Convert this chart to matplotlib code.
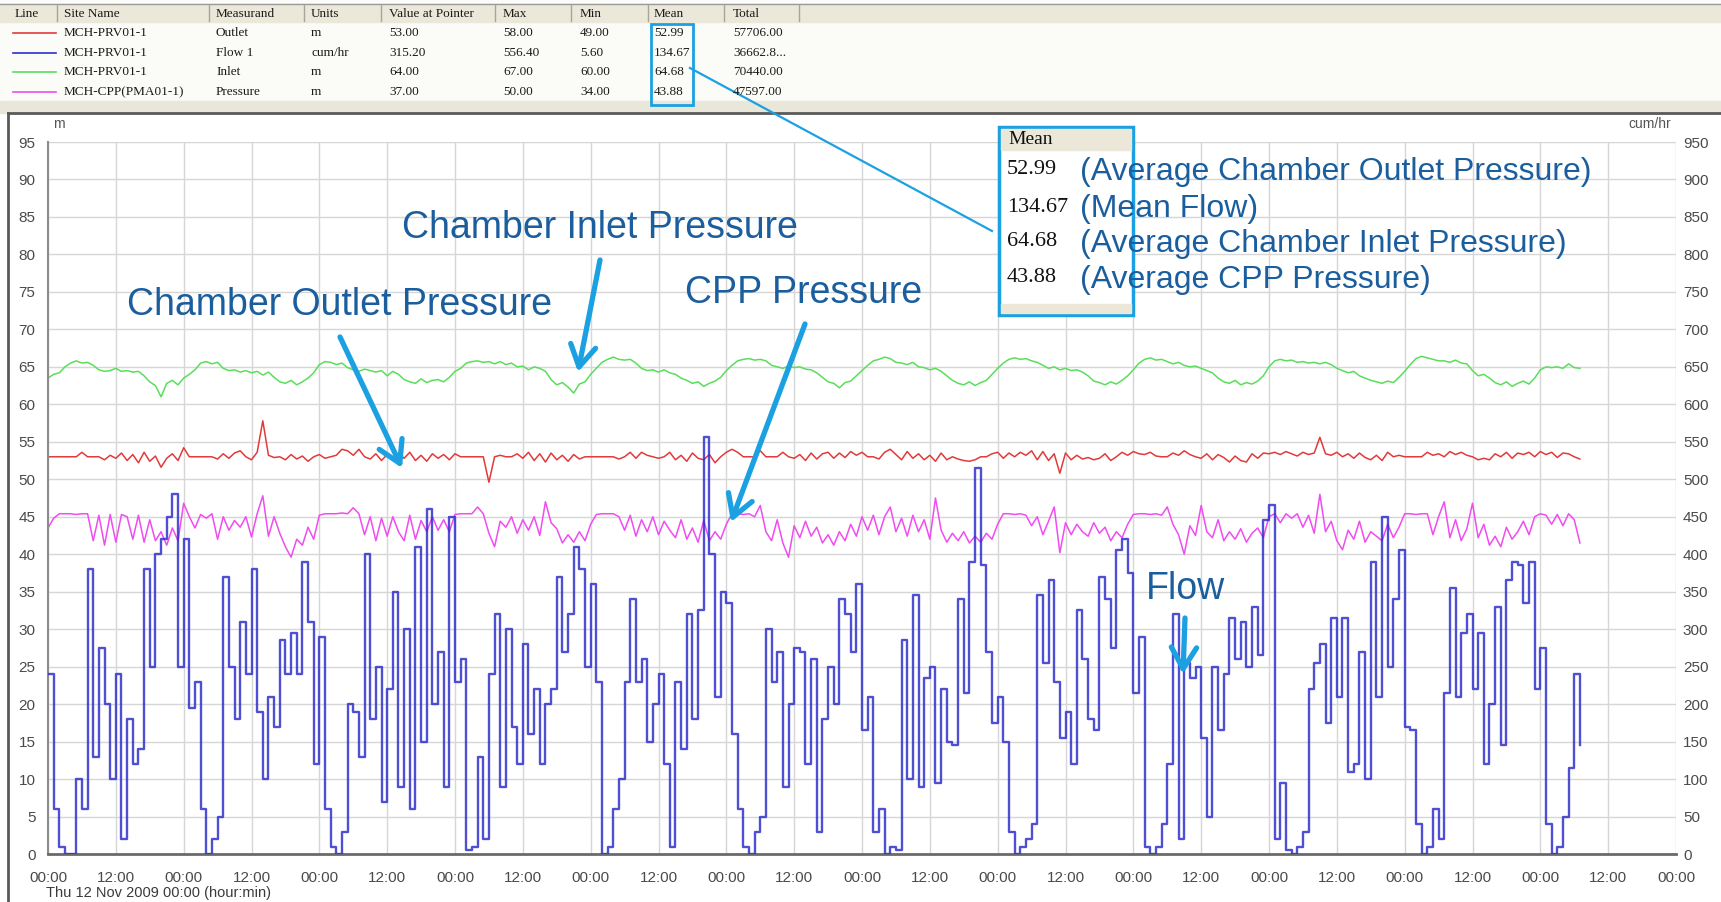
import numpy as np
import matplotlib.pyplot as plt

# hourly readings from Thu 12 Nov 2009 00:00
outlet_m = [
    53.0, 53.0, 53.0, 53.0, 53.0, 53.0, 53.6, 53.0, 53.0, 53.0, 52.6, 53.2,
    52.8, 53.5, 52.5, 53.3, 52.2, 53.6, 52.4, 53.1, 51.6, 52.8, 53.4, 52.5,
    54.2, 53.0, 53.0, 53.0, 53.0, 53.0, 52.7, 53.4, 52.8, 53.5, 53.8, 53.0,
    52.6, 53.6, 57.8, 53.2, 52.9, 53.0, 52.6, 53.3, 52.7, 53.1, 52.4, 53.0,
    53.3, 52.8, 53.0, 53.2, 54.0, 53.8, 53.2, 54.0, 53.0, 52.7, 53.4, 52.5,
    53.3, 52.6, 53.5, 52.8, 53.6, 52.5, 53.2, 52.4, 53.4, 52.8, 53.3, 52.6,
    53.4, 53.0, 53.0, 53.0, 53.0, 53.0, 49.6, 53.0, 53.2, 53.0, 53.0, 53.4,
    52.8, 53.6, 52.5, 53.4, 52.3, 53.5, 52.6, 53.2, 52.4, 53.3, 52.7, 53.0,
    53.0, 53.0, 53.0, 53.0, 53.0, 52.7, 53.0, 53.6, 52.8, 53.6, 53.2, 53.0,
    52.8, 53.0, 53.6, 52.6, 53.2, 52.4, 53.5, 52.8, 52.6, 53.3, 52.2, 53.0,
    53.6, 54.0, 53.6, 53.0, 53.0, 53.0, 53.8, 53.0, 53.0, 53.0, 53.6, 53.0,
    52.8, 53.3, 52.5, 53.5, 52.7, 53.4, 53.6, 52.8, 53.5, 52.9, 53.7, 53.2,
    53.6, 53.0, 53.0, 52.7, 53.6, 54.0, 53.3, 52.6, 53.7, 52.8, 53.4, 52.6,
    53.2, 52.4, 53.5, 52.6, 53.0, 52.7, 52.5, 52.4, 52.6, 53.0, 53.0, 53.4,
    53.6, 52.8, 53.5, 53.0, 53.6, 53.2, 53.8, 52.6, 53.7, 52.5, 53.4, 50.8,
    53.5, 52.6, 53.2, 52.7, 52.9, 52.6, 52.8, 53.4, 52.5, 53.0, 53.6, 53.2,
    53.7, 53.4, 53.3, 53.6, 53.1, 53.0, 53.0, 53.5, 53.2, 53.8, 53.3, 53.0,
    52.8, 53.4, 52.6, 53.3, 52.9, 52.3, 53.1, 52.5, 52.3, 53.4, 52.8, 53.5,
    53.4, 53.6, 53.3, 53.7, 53.4, 53.1, 53.6, 53.3, 53.5, 55.6, 53.4, 53.2,
    53.6, 53.0, 53.4, 52.8, 53.5, 52.9, 52.6, 53.2, 52.5, 53.6, 53.0, 53.2,
    53.0, 53.0, 53.0, 53.0, 53.6, 53.2, 53.4, 53.0, 53.7, 53.3, 53.6, 53.2,
    53.0, 52.6, 52.8, 52.6, 53.4, 53.0, 53.6, 52.8, 53.5, 53.3, 53.6, 53.0,
    53.7, 53.3, 53.6, 52.9, 53.5, 53.4, 53.0, 52.7,
]

flow_cumhr = [
    240, 60, 10, 0, 0, 100, 60, 380, 130, 275,
    200, 100, 240, 20, 180, 120, 140, 380, 250, 400,
    420, 450, 480, 250, 420, 195, 230, 60, 0, 20,
    50, 370, 250, 180, 310, 240, 380, 190, 100, 210,
    170, 285, 240, 295, 240, 390, 310, 120, 290, 60,
    10, 0, 30, 200, 190, 130, 400, 180, 250, 70,
    220, 350, 90, 300, 60, 410, 150, 460, 200, 270,
    90, 450, 230, 260, 5, 10, 130, 20, 240, 320,
    90, 300, 170, 120, 280, 160, 220, 120, 200, 220,
    370, 270, 320, 410, 380, 250, 360, 230, 0, 10,
    60, 100, 230, 340, 230, 260, 150, 200, 240, 120,
    10, 230, 140, 320, 180, 325, 556, 400, 210, 350,
    335, 160, 60, 10, 0, 30, 50, 300, 230, 270,
    90, 200, 275, 270, 120, 260, 30, 180, 250, 200,
    340, 320, 270, 360, 165, 210, 30, 60, 0, 10,
    5, 285, 100, 345, 90, 235, 250, 95, 220, 150,
    145, 340, 215, 390, 515, 385, 270, 175, 210, 150,
    30, 0, 10, 20, 40, 345, 255, 365, 230, 155,
    190, 120, 325, 260, 180, 165, 370, 340, 275, 405,
    420, 375, 215, 290, 10, 0, 10, 40, 120, 320,
    20, 255, 235, 250, 155, 50, 250, 165, 240, 315,
    260, 310, 250, 330, 265, 445, 465, 20, 95, 5,
    0, 10, 30, 220, 255, 280, 175, 315, 210, 315,
    110, 120, 270, 100, 390, 210, 450, 250, 340, 405,
    170, 165, 40, 0, 10, 60, 20, 215, 355, 210,
    295, 320, 220, 295, 120, 200, 330, 145, 365, 390,
    385, 335, 390, 220, 275, 40, 0, 10, 50, 115,
    240, 145,
]

inlet_m = [
    63.5, 64.0, 64.2, 65.0, 65.5, 65.8, 65.5, 65.6, 65.2, 64.6, 64.4, 64.5,
    64.8, 64.4, 64.5, 64.3, 64.4, 63.8, 63.0, 62.5, 61.0, 62.8, 63.2, 62.6,
    63.5, 64.0, 64.6, 65.5, 65.7, 65.4, 65.6, 64.8, 64.5, 64.6, 64.3, 64.5,
    64.2, 64.4, 63.9, 64.3, 63.6, 63.0, 62.8, 63.2, 62.6, 63.0, 63.5, 64.2,
    65.3, 65.7, 65.6, 65.3, 65.5, 64.9, 64.6, 64.4, 64.7, 64.5, 64.3, 64.5,
    63.8, 64.4, 64.0, 63.3, 63.0, 62.8, 63.4, 62.9, 63.2, 63.3, 63.0, 63.6,
    64.4, 64.8, 65.5, 65.7, 65.8, 65.6, 65.7, 65.4, 65.7, 65.3, 65.5, 65.0,
    65.1, 64.6, 65.0, 64.8, 64.4, 63.3, 62.6, 62.9, 62.3, 61.5, 62.7, 63.0,
    64.0, 64.8, 65.6, 66.0, 66.3, 66.0, 65.9, 66.0, 65.5, 64.8, 64.5, 64.6,
    64.3, 64.6, 64.2, 64.0, 63.5, 63.2, 62.8, 63.0, 62.4, 62.8, 63.1, 63.6,
    64.5, 65.2, 65.8, 66.0, 66.1, 65.9, 66.0, 65.8, 65.2, 65.0, 64.8, 65.1,
    64.9, 65.0, 64.7, 64.6, 64.2, 63.6, 63.0, 62.8, 62.2, 62.9, 63.1, 63.8,
    64.5, 65.2, 65.8, 66.0, 66.3, 66.1, 65.6, 65.5, 65.3, 65.6, 65.0, 64.9,
    64.6, 64.8, 64.4, 63.8, 63.2, 62.8, 62.6, 63.0, 62.5, 62.9, 63.2, 64.0,
    64.8, 65.5, 66.0, 66.2, 66.0, 66.1, 65.8, 65.6, 65.2, 64.8, 65.0, 64.6,
    64.8, 64.5, 64.6, 64.3, 63.8, 63.1, 62.9, 62.6, 63.0, 62.7, 63.2, 63.8,
    64.6, 65.5, 66.0, 66.2, 65.9, 66.0, 65.7, 65.4, 65.6, 65.2, 65.0, 65.1,
    64.8, 64.5, 64.2, 63.5, 63.0, 62.8, 63.2, 62.6, 62.9, 62.7, 63.1, 63.8,
    65.0, 65.8, 66.0, 65.8, 65.9, 65.6, 65.7, 65.5, 65.6, 65.4, 65.6, 65.3,
    64.8, 64.5, 64.2, 64.4, 63.8, 63.5, 63.2, 63.0, 62.8, 63.1, 62.9, 63.6,
    64.4, 65.3, 66.1, 66.4, 66.2, 66.0, 65.8, 65.8, 65.6, 65.9, 65.5, 65.4,
    64.5, 63.8, 64.0, 63.5, 62.9, 62.6, 63.0, 62.4, 62.8, 63.1, 62.7, 63.5,
    64.6, 65.0, 64.9, 65.0, 64.8, 65.4, 64.9, 64.8,
]

cpp_m = [
    43.5, 44.8, 45.4, 45.4, 45.4, 45.3, 45.4, 45.4, 41.8, 45.2, 41.2, 45.3,
    41.6, 45.3, 45.0, 42.0, 45.2, 41.6, 44.6, 41.8, 43.0, 41.2, 43.5, 41.8,
    46.8, 45.0, 43.5, 45.3, 44.8, 45.4, 42.0, 45.0, 43.2, 44.5, 43.6, 45.0,
    42.3, 45.4, 47.8, 42.4, 45.0, 42.8, 41.0, 39.6, 42.0, 41.2, 43.6, 42.0,
    45.2, 45.4, 45.4, 45.4, 45.5, 45.4, 46.2, 45.4, 42.6, 45.0, 41.8, 44.8,
    42.4, 45.0, 43.0, 41.8, 45.2, 42.0, 44.5, 43.0, 45.0, 43.2, 44.6, 43.0,
    45.3, 45.4, 45.4, 45.4, 46.3, 45.4, 42.8, 41.0, 44.4, 43.6, 45.0, 42.8,
    44.6, 43.2, 45.0, 42.5, 47.0, 44.2, 43.4, 41.5, 42.6, 41.6, 43.0, 41.8,
    44.0, 45.3, 45.4, 45.4, 45.4, 45.0, 43.2, 45.2, 42.4, 44.6, 43.0, 45.0,
    42.6, 44.4, 43.2, 42.2, 44.6, 42.0, 43.5, 41.6, 44.5, 41.8, 43.0, 42.0,
    44.0, 45.4, 45.4, 45.3, 45.4, 45.0, 46.5, 43.0, 41.8, 44.6, 41.5, 39.6,
    43.8, 42.2, 44.4, 42.4, 43.6, 41.5, 42.6, 41.2, 43.0, 41.8, 44.0, 42.4,
    45.0, 43.2, 45.2, 42.6, 45.0, 46.3, 43.0, 44.8, 42.4, 45.2, 43.0, 44.6,
    42.0, 47.5, 43.2, 41.6, 42.8, 41.8, 43.0, 41.5, 42.4, 41.6, 42.8, 42.0,
    44.0, 45.4, 45.4, 45.3, 45.4, 45.2, 43.8, 45.0, 42.6, 44.4, 46.3, 40.2,
    44.2, 42.6, 44.0, 43.0, 42.4, 44.2, 42.8, 43.6, 41.8, 43.0, 42.2, 44.0,
    45.3, 45.4, 45.4, 45.3, 45.4, 45.2, 46.3, 44.0, 42.6, 40.0, 43.8, 42.5,
    46.5, 43.0, 42.2, 44.6, 41.8, 43.0, 42.0, 43.4, 41.6, 42.8, 43.5, 42.2,
    45.0, 45.4, 44.2, 45.4, 44.8, 45.4, 43.6, 45.2, 42.8, 48.0, 43.0, 44.4,
    41.8, 40.6, 43.2, 42.0, 44.4, 41.6, 43.0, 42.4, 41.8, 44.0, 42.2, 43.6,
    45.4, 45.4, 45.3, 45.4, 45.4, 42.6, 45.0, 47.0, 42.2, 44.6, 41.8, 43.4,
    46.8, 42.2, 44.0, 41.2, 42.4, 41.0, 43.6, 42.0, 43.0, 44.4, 42.6, 45.0,
    45.4, 45.2, 44.0, 45.3, 43.8, 45.4, 44.6, 41.5,
]

hours = np.arange(len(flow_cumhr))

# summary table shown above the chart
site_names = ["MCH-PRV01-1", "MCH-PRV01-1", "MCH-PRV01-1", "MCH-CPP(PMA01-1)"]
measurands = ["Outlet", "Flow 1", "Inlet", "Pressure"]
units = ["m", "cum/hr", "m", "m"]
at_pointer = ["53.00", "315.20", "64.00", "37.00"]
maxima = ["58.00", "556.40", "67.00", "50.00"]
minima = ["49.00", "5.60", "60.00", "34.00"]
means = ["52.99", "134.67", "64.68", "43.88"]
totals = ["57706.00", "36662.8...", "70440.00", "47597.00"]
mean_notes = ["(Average Chamber Outlet Pressure)", "(Mean Flow)",
              "(Average Chamber Inlet Pressure)", "(Average CPP Pressure)"]

RED, BLUE, GREEN, PINK = "#e23a3a", "#3030cc", "#5ade5a", "#f04cf0"
line_colors = [RED, BLUE, GREEN, PINK]
NOTE = "#1b5e9e"
ARROW = "#1ba1e2"
W, H = 1721, 902

fig = plt.figure(figsize=(W / 100, H / 100), dpi=100)
fig.patch.set_facecolor("white")

# ---- main chart ----
x0, x1, ytop, ybot = 48, 1676, 142, 854
ax = fig.add_axes([x0 / W, (H - ybot) / H, (x1 - x0) / W, (ybot - ytop) / H])
ax.set_xlim(0, 288)
ax.set_ylim(0, 95)
ax.set_yticks(np.arange(0, 96, 5))
ax.set_xticks(np.arange(0, 289, 12))
ax.set_xticklabels(["00:00" if t % 24 == 0 else "12:00" for t in range(0, 289, 12)])
ax.grid(True, color="#d6d6d6", lw=1)
ax.set_axisbelow(True)
for s in ["top", "right"]:
    ax.spines[s].set_visible(False)
ax.spines["left"].set_color("#8c8c8c")
ax.spines["left"].set_linewidth(1.5)
ax.spines["bottom"].set_color("#6a6a6a")
ax.spines["bottom"].set_linewidth(2)
ax.tick_params(length=0, labelsize=11, labelcolor="#4a4a4a", pad=9)
ax.tick_params(axis="x", pad=12)
for lab in ax.get_xticklabels() + ax.get_yticklabels():
    lab.set_family("Liberation Sans")

ax.plot(hours, inlet_m, color=GREEN, lw=1.1)
ax.plot(hours, outlet_m, color=RED, lw=1.1)
ax.plot(hours, cpp_m, color=PINK, lw=1.1)

ax2 = ax.twinx()
ax2.set_ylim(0, 950)
ax2.set_yticks(np.arange(0, 951, 50))
for s in ax2.spines.values():
    s.set_visible(False)
ax2.tick_params(length=0, labelsize=11, labelcolor="#4a4a4a", pad=5)
for lab in ax2.get_yticklabels():
    lab.set_family("Liberation Sans")
ax2.plot(hours, flow_cumhr, color=BLUE, lw=1.7, alpha=0.85, drawstyle="steps-post")

# ---- overlay in pixel coordinates: table, frame, notes ----
ov = fig.add_axes([0, 0, 1, 1])
ov.set_xlim(0, W)
ov.set_ylim(H, 0)
ov.axis("off")

ov.add_patch(plt.Rectangle((0, 0), W, 101, color="#fbfbf7", zorder=0))
ov.add_patch(plt.Rectangle((0, 4), W, 18, color="#ebe8d9", zorder=1))
ov.add_patch(plt.Rectangle((0, 101), W, 12, color="#e9e6da", zorder=1))
ov.plot([8, W], [113, 113], color="#5a5a5a", lw=2)
ov.plot([8, 8], [113, H], color="#5a5a5a", lw=2)
ov.plot([0, W], [4, 4], color="#9a9a9a", lw=1)

col_sep = [57, 209, 304, 381, 495, 571, 648, 724, 799]
for cx in col_sep:
    ov.plot([cx, cx], [5, 21], color="#a8a59a", lw=1)
headers = ["Line", "Site Name", "Measurand", "Units", "Value at Pointer",
           "Max", "Min", "Mean", "Total"]
col_x = [15, 64, 216, 311, 389, 503, 580, 654, 733]
tfont = dict(family="Liberation Serif", fontsize=9.5, color="#1a1a1a", va="center")
for hx, h in zip(col_x, headers):
    ov.text(hx, 14, h, **tfont)
row_y = [33, 53, 72, 92]
for i, ry in enumerate(row_y):
    ov.plot([13, 56], [ry, ry], color=line_colors[i], lw=1.2)
    cells = [site_names[i], measurands[i], units[i], at_pointer[i],
             maxima[i], minima[i], means[i], totals[i]]
    for cx, c in zip(col_x[1:], cells):
        ov.text(cx, ry, c, **tfont)

# highlight of the Mean column and its callout
ov.add_patch(plt.Rectangle((651, 24), 42, 81, fill=False, ec=ARROW, lw=2, zorder=5))
ov.plot([690, 992], [68, 231], color=ARROW, lw=1.6)

ov.add_patch(plt.Rectangle((999, 127), 134, 188, fc="white", ec=ARROW, lw=2.5, zorder=4))
ov.add_patch(plt.Rectangle((1001, 129), 130, 21, color="#ebe8d9", zorder=5))
ov.add_patch(plt.Rectangle((1001, 304), 130, 9, color="#ebe8d9", zorder=5))
ov.text(1008, 139, "Mean", family="Liberation Serif", fontsize=14,
        va="center", color="#111111", zorder=6)
mean_y = [172, 209, 244, 280]
for my, m, note in zip(mean_y, means, mean_notes):
    ov.text(1007, my - 2, m, family="Liberation Serif", fontsize=16,
            va="center", color="#111111", zorder=6)
    ov.text(1080, my, note, family="Liberation Sans", fontsize=23,
            va="center", color=NOTE, zorder=7)

# series labels with arrows
nfont = dict(family="Liberation Sans", fontsize=27, color=NOTE, va="center")
ov.text(402, 228, "Chamber Inlet Pressure", **nfont)
ov.text(127, 305, "Chamber Outlet Pressure", **nfont)
ov.text(685, 293, "CPP Pressure", **nfont)
ov.text(1146, 589, "Flow", **nfont)
arrows = [((600, 260), (578, 372)), ((340, 337), (402, 468)),
          ((805, 324), (731, 522)), ((1185, 618), (1183, 674))]
for (sx, sy), (ex, ey) in arrows:
    ov.annotate("", xy=(ex, ey), xytext=(sx, sy),
                arrowprops=dict(arrowstyle="->,head_length=1.1,head_width=0.65",
                                color=ARROW, lw=3.8, mutation_scale=14,
                                shrinkA=0, shrinkB=0))

ov.text(53, 124, "m", family="Liberation Sans", fontsize=10, color="#555555", va="center")
ov.text(1671, 124, "cum/hr", family="Liberation Sans", fontsize=10, color="#555555",
        va="center", ha="right")
ov.text(46, 893, "Thu 12 Nov 2009 00:00 (hour:min)", family="Liberation Sans",
        fontsize=10.5, color="#3a3a3a", va="center")

fig.savefig("out.png", dpi=100)
